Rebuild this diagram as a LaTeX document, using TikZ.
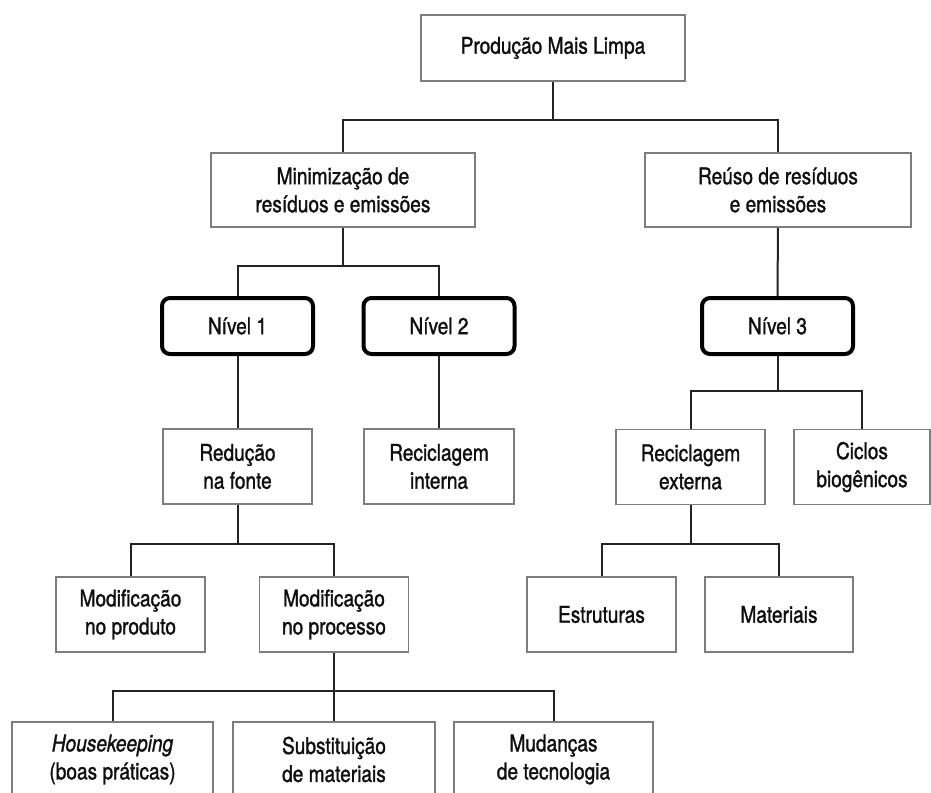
\documentclass[tikz,border=0pt]{standalone}
\usepackage{fontspec}
\setmainfont{TeX Gyre Heros}[FakeStretch=0.83,FakeBold=1.3]
\definecolor{boxgray}{RGB}{125,125,125}
\definecolor{linegray}{RGB}{35,35,35}
\definecolor{txt}{RGB}{15,15,15}
\begin{document}
\begin{tikzpicture}[x=1pt,y=-1pt,
  box/.style={draw=boxgray,line width=1.8pt,fill=white,align=center,inner sep=0pt,
    minimum height=75pt,text=txt,font=\fontsize{23}{28}\selectfont},
  lvl/.style={draw=black,line width=4pt,rounded corners=8pt,fill=white,align=center,
    inner sep=0pt,minimum height=56pt,minimum width=151pt,text=txt,font=\fontsize{23}{28}\selectfont},
  conn/.style={draw=linegray,line width=2pt}]
\useasboundingbox (0,0) rectangle (931,792);
\clip (0,0) rectangle (931,792);
% nodes
\node[box,minimum width=264pt,minimum height=66pt] (top) at (553,48) {Produção Mais Limpa};
\node[box,minimum width=264pt,minimum height=74pt] (mini) at (343,190) {Minimização de\\resíduos e emissões};
\node[box,minimum width=266pt,minimum height=74pt] (reuso) at (778,190) {Reúso de resíduos\\e emissões};
\node[lvl] (n1) at (237.5,326) {Nível 1};
\node[lvl] (n2) at (439,326) {Nível 2};
\node[lvl] (n3) at (777.5,326) {Nível 3};
\node[box,minimum width=149pt] (red) at (237.5,466.5) {Redução\\na fonte};
\node[box,minimum width=150pt] (recint) at (439,466.5) {Reciclagem\\interna};
\node[box,minimum width=149pt] (recext) at (690.5,467) {Reciclagem\\externa};
\node[box,minimum width=136pt] (cyc) at (862,467) {Ciclos\\biogênicos};
\node[box,minimum width=149pt] (modprod) at (130.5,614.5) {Modificação\\no produto};
\node[box,minimum width=149pt] (modproc) at (334,614.5) {Modificação\\no processo};
\node[box,minimum width=149pt] (estr) at (601.5,614.5) {Estruturas};
\node[box,minimum width=148pt] (mat) at (779,614.5) {Materiais};
\node[box,minimum width=201pt] (hk) at (112.5,759.5) {\textit{Housekeeping}\\(boas práticas)};
\node[box,minimum width=202pt] (sub) at (334,759.5) {Substituição\\de materiais};
\node[box,minimum width=199pt] (mud) at (553.5,759.5) {Mudanças\\de tecnologia};
% junctions
\coordinate (j1) at (553,120);
\coordinate (j2) at (343,266);
\coordinate (j3) at (777.5,391);
\coordinate (j4) at (237.5,544);
\coordinate (j5) at (690.5,544);
\coordinate (j6) at (334,691);
% connectors
\draw[conn] (top) -- (j1);
\draw[conn] (mini.north) |- (j1) -| (reuso.north);
\draw[conn] (mini) -- (j2);
\draw[conn] (n1.north) |- (j2) -| (n2.north);
\draw[conn] (n1) -- (red);
\draw[conn] (n2) -- (recint);
\draw[conn] (reuso) -- (n3);
\draw[conn] (n3) -- (j3);
\draw[conn] (recext.north) |- (j3) -| (cyc.north);
\draw[conn] (red) -- (j4);
\draw[conn] (modprod.north) |- (j4) -| (modproc.north);
\draw[conn] (recext) -- (j5);
\draw[conn] (estr.north) |- (j5) -| (mat.north);
\draw[conn] (modproc) -- (j6);
\draw[conn] (hk.north) |- (j6) -| (mud.north);
\draw[conn] (j6) -- (sub.north);
\end{tikzpicture}
\end{document}
